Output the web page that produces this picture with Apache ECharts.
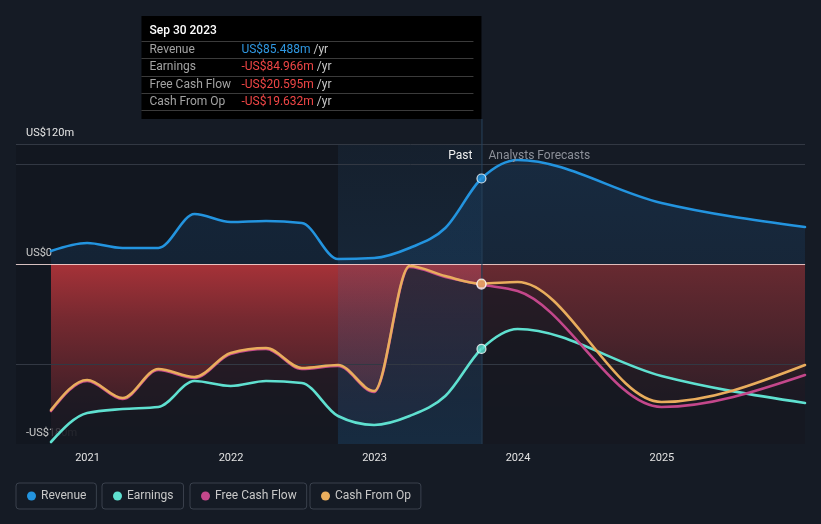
<!DOCTYPE html>
<html><head><meta charset="utf-8">
<script src="https://cdn.jsdelivr.net/npm/echarts@6/dist/echarts.min.js"></script>
<style>html,body{margin:0;padding:0;background:#151b25;}#c{width:821px;height:524px;}</style>
</head><body><div id="c"></div>
<script>
// ---------- data (US$ millions) ----------
const pastDates = ['2020-09-30','2020-12-31','2021-03-31','2021-06-30','2021-09-30','2021-12-31','2022-03-31','2022-06-30','2022-09-30','2022-12-31','2023-03-31','2023-06-30','2023-09-30'];
const forecastDates = ['2023-12-31','2024-12-31','2025-12-31'];

const revenuePast     = [13, 21, 16, 16, 50, 42, 43, 41, 5, 6, 16, 36, 85.488];
const revenueForecast = [104, 61, 37];

const earningsPast     = [-178, -149, -145, -143, -117, -122, -117, -119, -152, -161, -152, -132, -84.966];
const earningsForecast = [-65, -112, -139];

const fcfPast     = [-147, -117, -135, -106, -114, -90, -85, -105, -102, -128, -3, -13, -20.595];
const fcfForecast = [-27, -143, -111];

const cfoPast     = [-146, -116, -134, -105, -113, -89, -84, -104, -101, -127, -2, -12, -19.632];
const cfoForecast = [-18, -138, -101];

const seriesNames = ['Revenue', 'Earnings', 'Free Cash Flow', 'Cash From Op'];
const yLabelValues = [120, 0, -180];
const gridLineValues = [120, 100, -100];

const axisStart = '2020-07-03', axisEnd = '2025-12-31';
const bandStart = '2022-09-30';
const divider = pastDates[pastDates.length - 1];
const yMin = -180, yMax = 120;

// ---------- helpers ----------
const colors = {Revenue:'#2394df', Earnings:'#5fe0d0', 'Free Cash Flow':'#c3478b', 'Cash From Op':'#e9ad5d'};
const ts = s => +echarts.time.parse(s);
const allDates = pastDates.concat(forecastDates);
const join = (p, f) => allDates.map((d, i) => [ts(d), i < p.length ? p[i] : f[i - p.length]]);
const seriesData = {
  'Revenue': join(revenuePast, revenueForecast),
  'Earnings': join(earningsPast, earningsForecast),
  'Free Cash Flow': join(fcfPast, fcfForecast),
  'Cash From Op': join(cfoPast, cfoForecast)
};
const pastLast = {
  'Revenue': revenuePast[revenuePast.length-1],
  'Earnings': earningsPast[earningsPast.length-1],
  'Free Cash Flow': fcfPast[fcfPast.length-1],
  'Cash From Op': cfoPast[cfoPast.length-1]
};
const fmtMoney = v => (v < 0 ? '-US$' : 'US$') + Math.abs(v).toFixed(3) + 'm';
const fmtAxis = v => v === 0 ? 'US$0' : (v < 0 ? '-US$' : 'US$') + Math.abs(v) + 'm';
const vgrad = stops => new echarts.graphic.LinearGradient(0, 0, 0, 1, stops.map(s => ({offset:s[0], color:s[1]})));
const YEAR = 365 * 24 * 3600 * 1000;

// monotone cubic (x-monotone) path through pixel points
const sgn = v => v < 0 ? -1 : 1;
function monotonePath(pts) {
  const n = pts.length, h = [], s = [], t = [];
  for (let i = 0; i < n - 1; i++) { h[i] = pts[i+1][0] - pts[i][0]; s[i] = (pts[i+1][1] - pts[i][1]) / h[i]; }
  for (let i = 1; i < n - 1; i++) {
    const p = (s[i-1] * h[i] + s[i] * h[i-1]) / (h[i-1] + h[i]);
    t[i] = (sgn(s[i-1]) + sgn(s[i])) * Math.min(Math.abs(s[i-1]), Math.abs(s[i]), 0.5 * Math.abs(p)) || 0;
  }
  t[0] = (3 * s[0] - t[1]) / 2;
  t[n-1] = (3 * s[n-2] - t[n-2]) / 2;
  let d = 'M' + pts[0][0] + ' ' + pts[0][1];
  for (let i = 0; i < n - 1; i++) {
    const dx = h[i] / 3;
    d += ' C' + (pts[i][0] + dx) + ' ' + (pts[i][1] + t[i] * dx) + ' ' +
         (pts[i+1][0] - dx) + ' ' + (pts[i+1][1] - t[i+1] * dx) + ' ' + pts[i+1][0] + ' ' + pts[i+1][1];
  }
  return d;
}

const FONT = 'Roboto, "Noto Sans", sans-serif';
const chart = echarts.init(document.getElementById('c'), null, {renderer:'canvas'});

function curveSeries(name, data, z, styleFn, baseValue) {
  return {
    name, type:'custom', coordinateSystem:'cartesian2d', data, z, silent: name.charAt(0) === '_',
    encode:{x:0, y:1},
    itemStyle: colors[name] ? {color: colors[name]} : undefined,
    renderItem: (params, api) => {
      if (params.dataIndex !== 0) return null;
      const pts = data.map(p => api.coord(p));
      let d = monotonePath(pts);
      if (baseValue !== undefined) {
        const yb = api.coord([data[0][0], baseValue])[1];
        d += ' L' + pts[pts.length-1][0] + ' ' + yb + ' L' + pts[0][0] + ' ' + yb + ' Z';
      }
      return {type:'path', shape:{pathData:d}, style: styleFn()};
    }
  };
}

const series = [];
series.push({
  name:'_pastShade', type:'line', data:[[axisStart, yMax], [bandStart, yMax]], symbol:'none', silent:true, z:1,
  lineStyle:{width:0}, areaStyle:{origin:'start', opacity:1, color:'rgba(0,0,0,0.13)'}
});
series.push({
  name:'_redPast', type:'line', data:[[pastDates[0], 0], [divider, 0]], symbol:'none', silent:true, z:1,
  lineStyle:{width:0}, areaStyle:{origin:'start', opacity:1, color: vgrad([[0,'rgba(166,50,56,1)'],[0.3,'rgba(166,50,56,0.68)'],[1,'rgba(166,50,56,0.12)']])}
});
series.push({
  name:'_redFc', type:'line', data:[[divider, 0], [forecastDates[forecastDates.length-1], 0]], symbol:'none', silent:true, z:1,
  lineStyle:{width:0}, areaStyle:{origin:'start', opacity:1, color: vgrad([[0,'rgba(104,42,49,1)'],[0.4,'rgba(90,38,45,0.8)'],[1,'rgba(70,32,40,0.3)']])}
});
series.push(curveSeries('_revArea', seriesData['Revenue'], 2,
  () => ({fill: vgrad([[0,'rgba(35,120,200,0.16)'],[1,'rgba(35,120,200,0.12)']]), stroke:'none'}), 0));
['Cash From Op','Free Cash Flow','Earnings'].forEach(n => {
  series.push(curveSeries('_area' + n, seriesData[n], 2,
    () => ({fill: n === 'Earnings' ? 'rgba(19,24,33,0.62)' : 'rgba(19,24,33,0.5)', stroke:'none'}), yMin));
});
series.push({
  name:'_band', type:'line', data:[[bandStart, yMax], [divider, yMax]], symbol:'none', silent:true, z:3,
  lineStyle:{width:0}, areaStyle:{origin:'start', opacity:1, color: vgrad([[0,'rgba(30,110,180,0.06)'],[0.45,'rgba(30,115,185,0.13)'],[1,'rgba(30,120,190,0.2)']])}
});
series.push({
  name:'_grid', type:'line', data:[], z:4, silent:true,
  markLine:{silent:true, symbol:'none', label:{show:false}, animation:false,
    lineStyle:{color:'#323843', type:'solid', width:1},
    data: gridLineValues.map(v => ({yAxis:v}))}
});
seriesNames.forEach(n => {
  series.push(curveSeries(n, seriesData[n], 5,
    () => ({stroke: colors[n], lineWidth:2.6, fill:'none', lineJoin:'round', lineCap:'round'})));
});
series.push({
  name:'_zero', type:'line', data:[], z:7, silent:true,
  markLine:{silent:true, symbol:'none', label:{show:false}, animation:false,
    lineStyle:{color:'rgba(255,226,222,0.8)', type:'solid', width:1},
    data:[{yAxis:0}]}
});
seriesNames.forEach(n => {
  series.push({
    name:'_dot'+n, type:'scatter', data:[[divider, pastLast[n]]], z:8, silent:true,
    symbol:'circle', symbolSize:9, itemStyle:{color:colors[n], borderColor:'#fff', borderWidth:1.2}
  });
});

const legendLefts = [16, 102, 190, 310];
const option = {
  backgroundColor:'#151b25',
  animation:false,
  textStyle:{fontFamily:FONT},
  grid:{left:16, right:16, top:144, bottom:80, containLabel:false},
  xAxis:{
    type:'time', min:axisStart, max:axisEnd, minInterval:YEAR, maxInterval:YEAR,
    axisLine:{lineStyle:{color:'#3c424c', width:1}},
    axisTick:{show:true, length:4, lineStyle:{color:'#4a505a'}},
    axisLabel:{color:'#e2e2e2', fontSize:11, margin:9, fontFamily:FONT,
      showMinLabel:false, showMaxLabel:false,
      formatter: v => String(new Date(v).getFullYear())},
    splitLine:{show:false}
  },
  yAxis:{
    type:'value', min:yMin, max:yMax, interval:60,
    axisLine:{show:false}, axisTick:{show:false}, splitLine:{show:false},
    axisLabel:{inside:true, margin:10, color:'#e6e6e6', fontSize:11, fontFamily:FONT,
      verticalAlign:'bottom', padding:[0,0,5,0],
      formatter: v => (yLabelValues.indexOf(v) >= 0 ? fmtAxis(v) : '')}
  },
  legend: seriesNames.map((n, i) => ({
    data:[{name:n, itemStyle:{color:colors[n]}}], left:legendLefts[i], top:483, orient:'horizontal',
    icon:'circle', itemWidth:9, itemHeight:9, itemTextGap:8,
    padding:[7,10,7,11], borderColor:'#3a414d', borderWidth:1, borderRadius:3,
    textStyle:{color:'#c8c8c8', fontSize:12, fontFamily:FONT},
    selectedMode:false
  })),
  series
};
chart.setOption(option);

const px = chart.convertToPixel({xAxisIndex:0}, ts(divider));
const yTop = chart.convertToPixel({yAxisIndex:0}, yMax);
const yBot = chart.convertToPixel({yAxisIndex:0}, yMin);
const dd = new Date(ts(divider));
const months = ['Jan','Feb','Mar','Apr','May','Jun','Jul','Aug','Sep','Oct','Nov','Dec'];
const title = months[dd.getMonth()] + ' ' + dd.getDate() + ' ' + dd.getFullYear();
const boxW = 340, boxH = 103, boxTop = 16;
const rowY = [33.5, 51, 68.5, 85.5];
const sepY = [25, 42, 60, 77, 94];
const children = [
  {type:'rect', shape:{x:0, y:0, width:boxW, height:boxH}, style:{fill:'#000'}},
  {type:'text', x:8, y:15, style:{text:title, fill:'#ffffff', fontSize:12, fontWeight:500, fontFamily:FONT, verticalAlign:'middle'}}
];
sepY.forEach(y => children.push({type:'line', shape:{x1:0, y1:y+0.5, x2:boxW-8, y2:y+0.5}, style:{stroke:'#3b3b3b', lineWidth:1}}));
seriesNames.forEach((n, i) => {
  const v = pastLast[n];
  children.push({type:'text', x:8, y:rowY[i], style:{text:n, fill:'#a3a3a3', fontSize:12, fontFamily:FONT, verticalAlign:'middle'}});
  children.push({type:'text', x:100, y:rowY[i], style:{
    text:'{v|' + fmtMoney(v) + '} {u|/yr}', verticalAlign:'middle', fontSize:12, fontFamily:FONT,
    rich:{v:{fill: v < 0 ? '#f04646' : '#2f98e2', fontSize:12, fontFamily:FONT},
          u:{fill:'#c8c8c8', fontSize:12, fontFamily:FONT}}}});
});
chart.setOption({
  graphic:[
    {type:'line', z:6, silent:true, shape:{x1:px+0.5, y1:boxTop+boxH, x2:px+0.5, y2:yBot}, style:{stroke:'#27425d', lineWidth:1}},
    {type:'group', x:px - boxW, y:boxTop, z:20, children},
    {type:'text', x:px - 9, y:yTop + 12, z:20, style:{text:'Past', fill:'#f0f0f0', fontSize:12, fontFamily:FONT, align:'right', verticalAlign:'middle'}},
    {type:'text', x:px + 7, y:yTop + 12, z:20, style:{text:'Analysts Forecasts', fill:'#8c9099', fontSize:12, fontFamily:FONT, align:'left', verticalAlign:'middle'}}
  ]
});
</script></body></html>
